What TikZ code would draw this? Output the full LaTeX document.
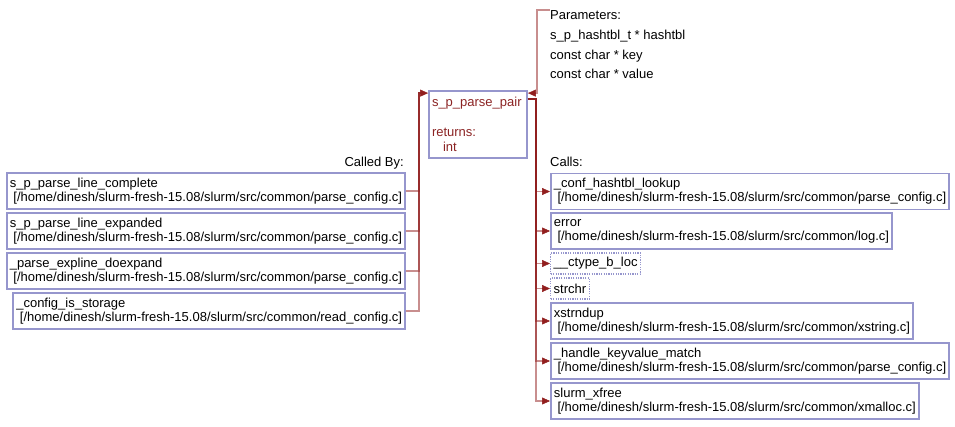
\documentclass[tikz,border=0pt]{standalone}
\usepackage{fontspec}
\setmainfont{Liberation Sans}
\usetikzlibrary{arrows.meta}
\definecolor{boxc}{RGB}{150,150,205}
\definecolor{edgec}{RGB}{145,30,30}
\definecolor{fnc}{RGB}{139,35,35}
\begin{document}
\begin{tikzpicture}[x=1pt,y=-1pt,
  every node/.style={font=\fontsize{13}{14}\selectfont},
  fbox/.style={draw=boxc, line width=1.8pt, inner xsep=3pt, inner ysep=2pt, minimum height=36pt, align=left},
  dbox/.style={draw=boxc, dash pattern=on 1.2pt off 1.2pt, line width=1.4pt, inner xsep=3pt, inner ysep=0pt, minimum height=21pt},
  lbl/.style={inner sep=0pt},
  ln/.style={draw=edgec, draw opacity=0.5, line width=1.6pt},
  tip/.style={draw=edgec, fill=edgec, line width=0.5pt, -{Triangle[length=8pt,width=7pt]}}]
\useasboundingbox (0,0) rectangle (955,426);

% central node
\node[draw=boxc, line width=1.8pt, minimum width=98pt, minimum height=67pt, text width=92pt,
      align=left, inner xsep=3pt, text=fnc, font=\fontsize{13}{15}\selectfont]
  (pp) at (478,124.5) {s\_p\_parse\_pair\\[15pt]returns:\\\hspace*{11pt}int};

% parameters
\node[lbl, anchor=base west] (prm) at (550,19) {Parameters:};
\node[lbl, anchor=base west] (prm1) at (550,39.5) {s\_p\_hashtbl\_t * hashtbl};
\node[lbl, anchor=base west] (prm2) at (550,59) {const char * key};
\node[lbl, anchor=base west] (prm3) at (550,78.5) {const char * value};

% labels
\node[lbl, anchor=base east] (calledby) at (404,166) {Called By:};
\node[lbl, anchor=base west] (calls) at (550,166) {Calls:};

% callers
\node[fbox, anchor=east] (c1) at (406,191) {s\_p\_parse\_line\_complete\\\hspace*{3.6pt}[/home/dinesh/slurm-fresh-15.08/slurm/src/common/parse\_config.c]};
\node[fbox, anchor=east] (c2) at (406,231) {s\_p\_parse\_line\_expanded\\\hspace*{3.6pt}[/home/dinesh/slurm-fresh-15.08/slurm/src/common/parse\_config.c]};
\node[fbox, anchor=east] (c3) at (406,271) {\_parse\_expline\_doexpand\\\hspace*{3.6pt}[/home/dinesh/slurm-fresh-15.08/slurm/src/common/parse\_config.c]};
\node[fbox, anchor=east] (c4) at (406,311) {\_config\_is\_storage\\\hspace*{3.6pt}[/home/dinesh/slurm-fresh-15.08/slurm/src/common/read\_config.c]};

% callees
\node[fbox, anchor=west] (k1) at (550,191.5) {\_conf\_hashtbl\_lookup\\\hspace*{3.6pt}[/home/dinesh/slurm-fresh-15.08/slurm/src/common/parse\_config.c]};
\node[fbox, anchor=west] (k2) at (550,231) {error\\\hspace*{3.6pt}[/home/dinesh/slurm-fresh-15.08/slurm/src/common/log.c]};
\node[dbox, anchor=west] (k3) at (550,263.5) {\_\_ctype\_b\_loc};
\node[dbox, anchor=west] (k4) at (550,288.5) {strchr};
\node[fbox, anchor=west] (k5) at (550,321) {xstrndup\\\hspace*{3.6pt}[/home/dinesh/slurm-fresh-15.08/slurm/src/common/xstring.c]};
\node[fbox, anchor=west] (k6) at (550,361) {\_handle\_keyvalue\_match\\\hspace*{3.6pt}[/home/dinesh/slurm-fresh-15.08/slurm/src/common/parse\_config.c]};
\node[fbox, anchor=west] (k7) at (550,401) {slurm\_xfree\\\hspace*{3.6pt}[/home/dinesh/slurm-fresh-15.08/slurm/src/common/xmalloc.c]};

% coordinates
\coordinate (pin) at ([yshift=-3pt]pp.north west);
\coordinate (pin2) at ([yshift=-3pt]pp.north east);
\coordinate (pout) at ([yshift=-9pt]pp.north east);
\coordinate (pst) at (550,10);

% edges (lines, semi-transparent)
\foreach \c in {c1,c2,c3,c4}
  \draw[ln] (\c.east) -| ([xshift=-9pt]pin) -- ([xshift=-4pt]pin);
\draw[ln] (pst) -| ([xshift=9pt]pin2) -- ([xshift=4pt]pin2);
\foreach \k in {k1,k2,k3,k4,k5,k6,k7}
  \draw[ln] (pout) -- ++(8,0) |- ([xshift=-4pt]\k.west);
% arrow tips
\draw[tip] ([xshift=-3pt]pin) -- (pin);
\draw[tip] ([xshift=3pt]pin2) -- (pin2);
\foreach \k in {k1,k2,k3,k4,k5,k6,k7}
  \draw[tip] ([xshift=-3pt]\k.west) -- (\k.west);
\end{tikzpicture}
\end{document}
